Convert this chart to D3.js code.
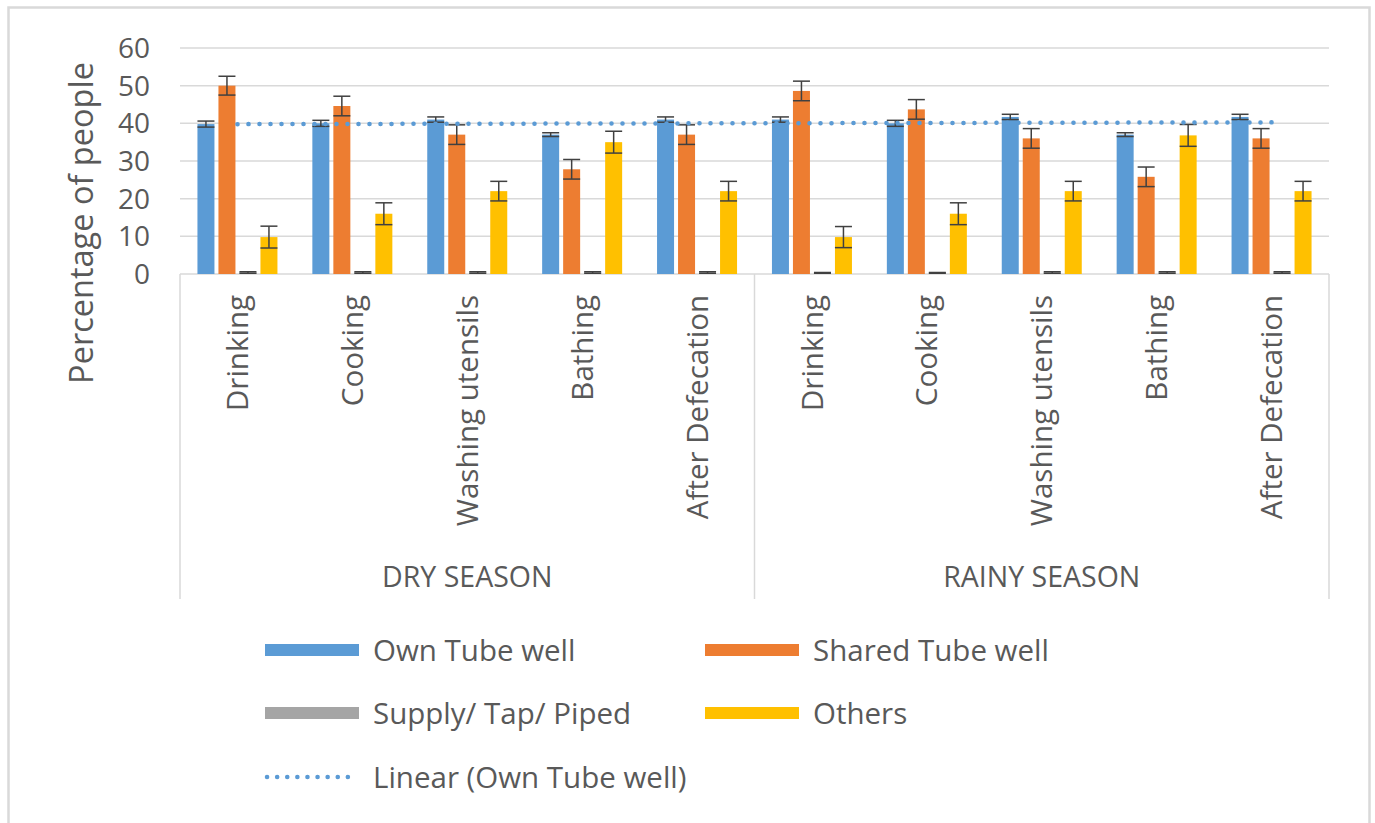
<!DOCTYPE html>
<html>
<head>
<meta charset="utf-8">
<script src="https://cdn.jsdelivr.net/npm/d3@7"></script>
<style>
  body { margin: 0; background: #ffffff; }
  text { font-family: "Open Sans", sans-serif; fill: #595959; }
</style>
</head>
<body>
<div id="chart"></div>
<script>
// Chart data
var seasons = ["DRY SEASON", "RAINY SEASON"];
var uses = ["Drinking", "Cooking", "Washing utensils", "Bathing", "After Defecation"];
var seriesNames = ["Own Tube well", "Shared Tube well", "Supply/ Tap/ Piped", "Others"];
var seriesColors = ["#5b9bd5", "#ed7d31", "#a5a5a5", "#ffc000"];

var ownTube = [39.8, 40, 41, 37, 41, 41, 40, 41.7, 37, 41.7];
var ownTubeErr = [0.8, 0.8, 0.7, 0.5, 0.7, 0.7, 0.8, 0.7, 0.5, 0.7];
var sharedTube = [50, 44.6, 37, 27.8, 37, 48.6, 43.7, 36, 25.8, 36];
var sharedTubeErr = [2.5, 2.6, 2.6, 2.6, 2.6, 2.6, 2.6, 2.6, 2.6, 2.6];
var supplyTap = [0.4, 0.4, 0.4, 0.4, 0.4, 0.3, 0.3, 0.4, 0.4, 0.4];
var supplyTapErr = [0.2, 0.2, 0.2, 0.2, 0.2, 0.1, 0.1, 0.2, 0.2, 0.2];
var others = [9.8, 16, 22, 35, 22, 9.8, 16, 22, 36.8, 22];
var othersErr = [2.9, 2.9, 2.6, 2.9, 2.6, 2.8, 2.9, 2.6, 2.9, 2.6];
var yTicks = [0, 10, 20, 30, 40, 50, 60];

// Layout settings
var width = 1375;
var height = 823;
var plotLeft = 180;
var plotRight = 1329;
var plotTop = 48;
var plotBottom = 274;
var axisBoxBottom = 599;
var gridColor = "#d9d9d9";

var seriesValues = [ownTube, sharedTube, supplyTap, others];
var seriesErrors = [ownTubeErr, sharedTubeErr, supplyTapErr, othersErr];

// One entry for each season / use pair
var cats = [];
seasons.forEach(function(s) {
    uses.forEach(function(u) {
        cats.push(s + "|" + u);
    });
});

var x0 = d3.scaleBand().domain(cats).range([plotLeft, plotRight]);
var x1 = d3.scaleBand().domain(seriesNames).range([-40, 40]).paddingInner(4 / 21);
var y = d3.scaleLinear().domain([0, 60]).range([plotBottom, plotTop]);

var svg = d3.select("#chart")
    .append("svg")
    .attr("width", width)
    .attr("height", height);

// Outer border of the chart
svg.append("rect")
    .attr("x", 8.5)
    .attr("y", 7.5)
    .attr("width", 1361)
    .attr("height", 830)
    .attr("fill", "#ffffff")
    .attr("stroke", "#d9d9d9")
    .attr("stroke-width", 2.5);

// Gridlines
svg.append("g")
    .selectAll("line")
    .data(yTicks)
    .enter()
    .append("line")
    .attr("x1", plotLeft)
    .attr("x2", plotRight)
    .attr("y1", function(d) { return y(d); })
    .attr("y2", function(d) { return y(d); })
    .attr("stroke", gridColor)
    .attr("stroke-width", 1.5);

// Y tick labels
svg.append("g")
    .selectAll("text")
    .data(yTicks)
    .enter()
    .append("text")
    .attr("x", 150)
    .attr("y", function(d) { return y(d); })
    .attr("dy", "0.36em")
    .attr("text-anchor", "end")
    .style("font-size", "28px")
    .text(function(d) { return d; });

// Y axis title
svg.append("text")
    .attr("transform", "translate(82,223) rotate(-90)")
    .attr("dy", "0.35em")
    .attr("text-anchor", "middle")
    .style("font-size", "32.5px")
    .text("Percentage of people");

// Category axis box: left, middle and right lines
var seasonEdges = [plotLeft].concat(seasons.map(function(s) {
    return x0(s + "|" + uses[uses.length - 1]) + x0.bandwidth();
}));
svg.append("g")
    .selectAll("line")
    .data(seasonEdges)
    .enter()
    .append("line")
    .attr("x1", function(d) { return d; })
    .attr("x2", function(d) { return d; })
    .attr("y1", plotBottom)
    .attr("y2", axisBoxBottom)
    .attr("stroke", gridColor)
    .attr("stroke-width", 1.5);

// Use labels, rotated
svg.append("g")
    .selectAll("text")
    .data(cats)
    .enter()
    .append("text")
    .attr("transform", function(d) {
        return "translate(" + (x0(d) + x0.bandwidth() / 2) + ",295) rotate(-90)";
    })
    .attr("dy", "0.36em")
    .attr("text-anchor", "end")
    .style("font-size", "29.5px")
    .text(function(d) { return d.split("|")[1]; });

// Season labels
svg.append("g")
    .selectAll("text")
    .data(seasons)
    .enter()
    .append("text")
    .attr("x", function(s) {
        return (x0(s + "|" + uses[0]) + x0(s + "|" + uses[uses.length - 1]) + x0.bandwidth()) / 2;
    })
    .attr("y", 577)
    .attr("dy", "0.36em")
    .attr("text-anchor", "middle")
    .style("font-size", "28.5px")
    .text(function(s) { return s; });

// Bars with error bars
var barData = [];
cats.forEach(function(c, i) {
    seriesNames.forEach(function(name, k) {
        barData.push({ cat: c, name: name, value: seriesValues[k][i], err: seriesErrors[k][i], color: seriesColors[k] });
    });
});

var barX = function(d) { return x0(d.cat) + x0.bandwidth() / 2 + x1(d.name); };

svg.append("g")
    .selectAll("rect")
    .data(barData)
    .enter()
    .append("rect")
    .attr("x", barX)
    .attr("y", function(d) { return y(d.value); })
    .attr("width", x1.bandwidth())
    .attr("height", function(d) { return y(0) - y(d.value); })
    .attr("fill", function(d) { return d.color; });

var errG = svg.append("g")
    .attr("stroke", "#404040")
    .attr("stroke-width", 1.5);

barData.forEach(function(d) {
    var cx = barX(d) + x1.bandwidth() / 2;
    var hw = x1.bandwidth() / 2;
    errG.append("line")
        .attr("x1", cx).attr("x2", cx)
        .attr("y1", y(d.value + d.err)).attr("y2", y(d.value - d.err));
    errG.append("line")
        .attr("x1", cx - hw).attr("x2", cx + hw)
        .attr("y1", y(d.value + d.err)).attr("y2", y(d.value + d.err));
    errG.append("line")
        .attr("x1", cx - hw).attr("x2", cx + hw)
        .attr("y1", y(d.value - d.err)).attr("y2", y(d.value - d.err));
});

// Linear trendline for Own Tube well (least squares over category index)
var n = ownTube.length;
var meanX = d3.mean(d3.range(n));
var meanY = d3.mean(ownTube);
var slope = d3.sum(d3.range(n), function(i) { return (i - meanX) * (ownTube[i] - meanY); }) /
    d3.sum(d3.range(n), function(i) { return (i - meanX) * (i - meanX); });
var intercept = meanY - slope * meanX;

svg.append("line")
    .attr("x1", x0(cats[0]) + x0.bandwidth() / 2)
    .attr("x2", x0(cats[n - 1]) + x0.bandwidth() / 2)
    .attr("y1", y(intercept))
    .attr("y2", y(intercept + slope * (n - 1)))
    .attr("stroke", "#5b9bd5")
    .attr("stroke-width", 4.5)
    .attr("stroke-linecap", "round")
    .attr("stroke-dasharray", "0.1 10.9");

// Legend
var legendItems = seriesNames.map(function(name, k) {
    return { name: name, color: seriesColors[k], kind: "bar" };
});
legendItems.push({ name: "Linear (Own Tube well)", color: "#5b9bd5", kind: "line" });

var legendCols = [265, 705];
var legendRows = [650, 713, 777];

var legend = svg.append("g")
    .selectAll("g")
    .data(legendItems)
    .enter()
    .append("g")
    .attr("transform", function(d, i) {
        return "translate(" + legendCols[i % 2] + "," + legendRows[Math.floor(i / 2)] + ")";
    });

legend.filter(function(d) { return d.kind == "bar"; })
    .append("rect")
    .attr("x", 0)
    .attr("y", -6)
    .attr("width", 94)
    .attr("height", 12)
    .attr("fill", function(d) { return d.color; });

legend.filter(function(d) { return d.kind == "line"; })
    .append("line")
    .attr("x1", 2)
    .attr("x2", 92)
    .attr("y1", 0)
    .attr("y2", 0)
    .attr("stroke", function(d) { return d.color; })
    .attr("stroke-width", 4.5)
    .attr("stroke-linecap", "round")
    .attr("stroke-dasharray", "0.1 10");

legend.append("text")
    .attr("x", 108)
    .attr("y", 0)
    .attr("dy", "0.36em")
    .style("font-size", "29.5px")
    .text(function(d) { return d.name; });
</script>
</body>
</html>
